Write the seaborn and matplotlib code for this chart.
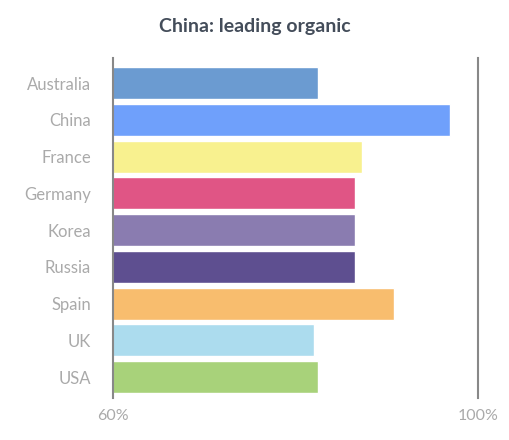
import matplotlib
matplotlib.use("Agg")
import matplotlib.pyplot as plt
import seaborn as sns
import pandas as pd

countries = ["Australia", "China", "France", "Germany", "Korea", "Russia", "Spain", "UK", "USA"]
values = [82.5, 96.9, 87.3, 86.5, 86.5, 86.5, 90.8, 82.0, 82.5]
colors = ["#6b9bd1", "#6fa0fb", "#f8f18f", "#e05585", "#8a7cb0", "#5e4f90", "#f8bd6e", "#acdcee", "#a8d27a"]
tick_vals = [60, 100]
tick_labels = ["60%", "100%"]

sns.set_theme(style="white")
plt.rcParams['font.family'] = ['Lato', 'DejaVu Sans']

df = pd.DataFrame({"country": countries, "value": values})
fig = plt.figure(figsize=(5.09, 4.4), dpi=100)
ax = fig.add_axes([0.222, 0.095, 0.717, 0.773])
sns.barplot(data=df, x="value", y="country", hue="country", palette=colors,
            legend=False, ax=ax, width=0.87, saturation=1, orient="h")
ax.set_xlim(60, 100)
ax.set_ylim(8.57, -0.68)
ax.set_xticks(tick_vals)
ax.set_xticklabels(tick_labels, color="#aaaaaa", fontsize=11.5)
ax.tick_params(axis="y", colors="#aaaaaa", labelsize=12, length=0, pad=16)
ax.tick_params(axis="x", length=0, pad=8)
for lbl in ax.get_yticklabels():
    lbl.set_color("#aaaaaa")
ax.set_xlabel("")
ax.set_ylabel("")
for s in ["top", "bottom"]:
    ax.spines[s].set_visible(False)
for s in ["left", "right"]:
    ax.spines[s].set_color("#888888")
    ax.spines[s].set_linewidth(1.5)
fig.text(0.5, 0.94, "China: leading organic", ha="center", va="center",
         fontsize=14, color="#444d5a", fontweight="bold")
fig.savefig("out.png", dpi=100)
